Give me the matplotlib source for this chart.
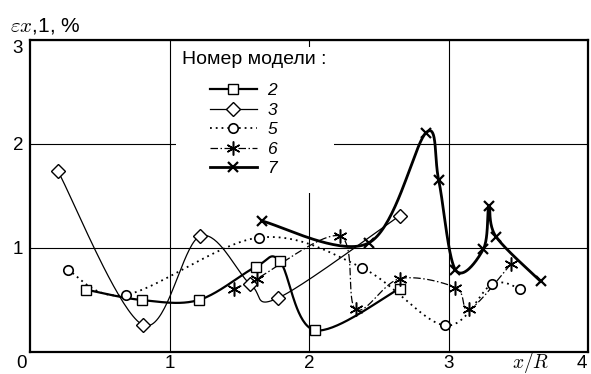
import numpy as np
import matplotlib
matplotlib.use("Agg")
import matplotlib.pyplot as plt
from matplotlib.lines import Line2D
from matplotlib.patches import Rectangle

plt.rcParams['font.family'] = ['Liberation Sans', 'DejaVu Sans']
plt.rcParams['mathtext.fontset'] = 'cm'

# model 2
x2 = [0.40, 0.80, 1.21, 1.62, 1.79, 2.04, 2.65]
y2 = [0.60, 0.50, 0.50, 0.82, 0.875, 0.21, 0.61]
# model 3
x3 = [0.20, 0.81, 1.22, 1.58, 1.78, 2.65]
y3 = [1.74, 0.26, 1.115, 0.65, 0.52, 1.31]
# model 5
x5 = [0.27, 0.686, 1.64, 2.38, 2.975, 3.31, 3.51]
y5 = [0.79, 0.55, 1.10, 0.81, 0.255, 0.65, 0.61]
# model 6
x6 = [1.465, 1.625, 2.22, 2.335, 2.65, 3.05, 3.15, 3.45]
y6 = [0.61, 0.705, 1.115, 0.41, 0.705, 0.62, 0.41, 0.85]
# model 7
x7 = [1.66, 2.43, 2.84, 2.93, 3.05, 3.25, 3.29, 3.34, 3.66]
y7 = [1.26, 1.05, 2.11, 1.65, 0.79, 0.99, 1.40, 1.11, 0.68]

labels = ['2', '3', '5', '6', '7']

# pixel size of one unit on each axis, used for smoothing in screen space
SX, SY = 139.5, 104.0


def smooth(xs, ys, n=40):
    p = np.column_stack([np.asarray(xs) * SX, np.asarray(ys) * SY])
    q = np.vstack([p[0], p, p[-1]])
    t = np.linspace(0, 1, n)[:, None]
    parts = []
    for i in range(len(p) - 1):
        p0, p1, p2, p3 = q[i], q[i + 1], q[i + 2], q[i + 3]
        c1 = p1 + (p2 - p0) / 6
        c2 = p2 - (p3 - p1) / 6
        seg = ((1 - t) ** 3) * p1 + 3 * ((1 - t) ** 2) * t * c1 \
            + 3 * (1 - t) * t ** 2 * c2 + t ** 3 * p2
        parts.append(seg if i == 0 else seg[1:])
    pts = np.vstack(parts)
    return pts[:, 0] / SX, pts[:, 1] / SY


styles = [
    dict(ls='-', lw=1.6, marker='s', ms=6.5, mew=1.0, mfc='white'),
    dict(ls='-', lw=0.9, marker='D', ms=7, mew=1.0, mfc='white'),
    dict(ls=(0, (1, 2.2)), lw=1.3, marker='o', ms=6.8, mew=1.2, mfc='white'),
    dict(ls=(0, (6, 2, 1.2, 2)), lw=0.9, marker=(6, 2, 0), ms=10, mew=1.1, mfc='none'),
    dict(ls='-', lw=2.0, marker='x', ms=7, mew=1.6, mfc='none'),
]
series = [(x2, y2), (x3, y3), (x5, y5), (x6, y6), (x7, y7)]

fig = plt.figure(figsize=(5.91, 3.74), dpi=100)
ax = fig.add_axes([30 / 591, 22 / 374, 558 / 591, 312 / 374])
ax.set_xlim(0, 4)
ax.set_ylim(0, 3)
ax.set_axisbelow(True)

handles = []
for (xs, ys), st, lab in zip(series, styles, labels):
    sxs, sys_ = smooth(xs, ys)
    ax.plot(sxs, sys_, color='black', ls=st['ls'], lw=st['lw'], zorder=2)
    ax.plot(xs, ys, ls='none', marker=st['marker'], ms=st['ms'], mew=st['mew'],
            mfc=st['mfc'], mec='black', zorder=3)
    handles.append(Line2D([], [], color='black', ls=st['ls'], lw=st['lw'],
                          marker=st['marker'], ms=st['ms'], mew=st['mew'],
                          mfc=st['mfc'], mec='black'))

ax.set_xticks([1, 2, 3])
ax.set_yticks([1, 2, 3])
ax.set_xticklabels(['1', '2', '3'])
ax.set_yticklabels(['1', '2', '3'])
ax.tick_params(length=0, labelsize=13.5)
ax.tick_params(axis='x', pad=2)
ax.tick_params(axis='y', pad=5)
ax.get_yticklabels()[-1].set_va('top')
ax.grid(True, color='black', lw=0.8)
for s in ax.spines.values():
    s.set_linewidth(1.6)

ax.annotate('0', xy=(0, 0), xytext=(-6, -2), textcoords='offset points',
            ha='center', va='top', fontsize=13.5)
ax.annotate('4', xy=(4, 0), xytext=(-4.5, -2), textcoords='offset points',
            ha='center', va='top', fontsize=13.5, annotation_clip=False)
ax.annotate('$x/R$', xy=(3.59, 0), xytext=(0, -11.5), textcoords='offset points',
            ha='center', va='baseline', fontsize=14)
fig.text(10 / 591, 1 - 32 / 374, r'$\varepsilon x$,1, %', fontsize=15,
         ha='left', va='baseline')

# white box behind the legend hides the grid
ax.add_patch(Rectangle((146 / 558, 1 - 153 / 312), 158 / 558, 146 / 312,
                       transform=ax.transAxes, facecolor='white',
                       edgecolor='none', zorder=1))
ax.text((182 - 30) / 558, 1 - 20 / 312, 'Номер модели :', transform=ax.transAxes,
        fontsize=14, ha='left', va='center', zorder=4)
ax.legend(handles, labels, loc='upper left',
          bbox_to_anchor=((210 - 30) / 558, 1 - 43 / 312),
          frameon=False, borderpad=0, borderaxespad=0, handlelength=2.7,
          handletextpad=0.6, labelspacing=0.25,
          prop={'style': 'italic', 'size': 12.5})

fig.savefig('out.png', dpi=100)
